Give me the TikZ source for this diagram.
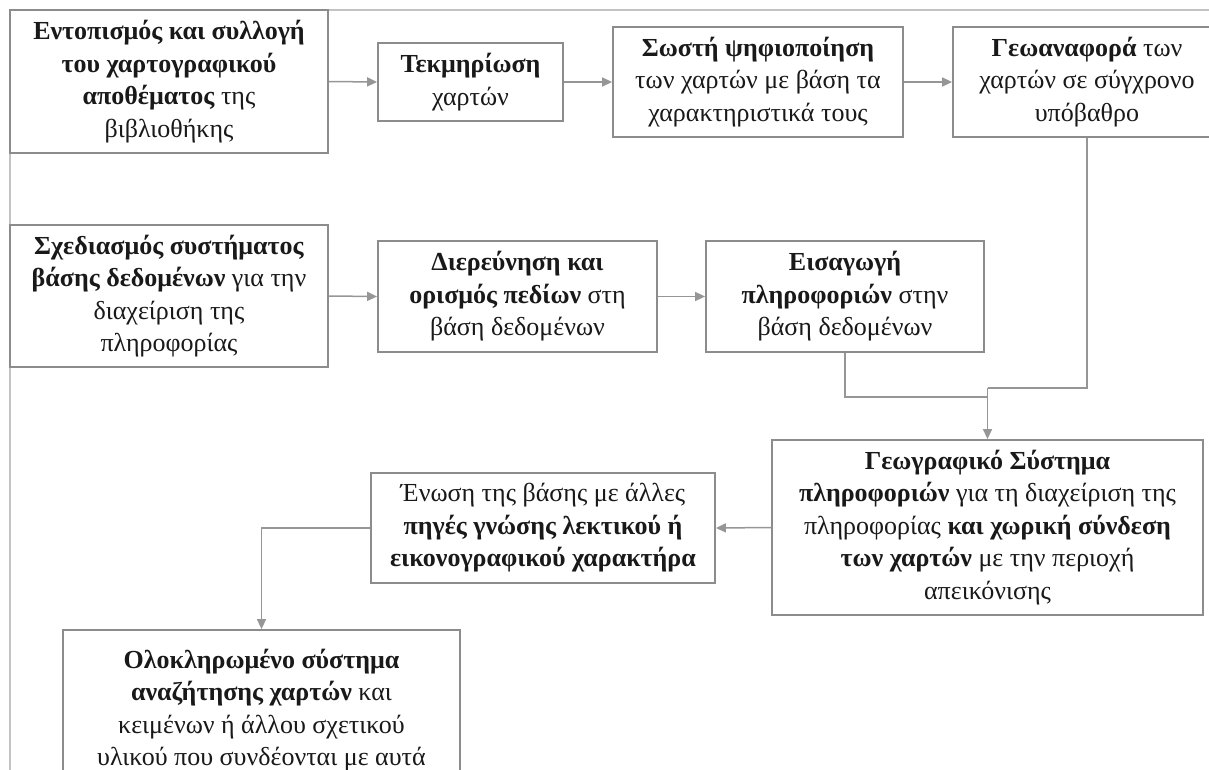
\documentclass[tikz,border=0pt]{standalone}
\usepackage{fontspec}
\setmainfont{Liberation Serif}
\usetikzlibrary{arrows.meta}
\definecolor{boxgray}{RGB}{140,140,140}
\definecolor{linegray}{RGB}{150,150,150}
\definecolor{framegray}{RGB}{195,195,195}
\definecolor{txt}{RGB}{25,25,25}
\tikzset{
  stepbox/.style={draw=boxgray, line width=1.8pt, fill=white, align=center, inner sep=0pt,
    text=txt, font=\fontsize{26}{32.5}\selectfont},
  conn/.style={draw=linegray, line width=1.5pt},
  arr/.style={conn, -{Triangle[length=10pt,width=9pt]}},
}
\begin{document}
\begin{tikzpicture}[x=1pt,y=-1pt]
\useasboundingbox (0,0) rectangle (1209,769);
\clip (0,0) rectangle (1209,769);
% page frame
\draw[framegray, line width=1.5pt] (10,800) -- (10,10) -- (1250,10);
% row 1
\node[stepbox, minimum width=318pt, minimum height=143pt] (B1) at (169,81.5)
  {\textbf{Εντοπισμός και συλλογή}\\ \textbf{του χαρτογραφικού}\\ \textbf{αποθέματος} της\\ βιβλιοθήκης};
\node[stepbox, minimum width=185pt, minimum height=78pt] (B2) at (470.5,82)
  {\textbf{Τεκμηρίωση}\\ χαρτών};
\node[stepbox, minimum width=290pt, minimum height=110pt] (B3) at (758,82)
  {\textbf{Σωστή ψηφιοποίηση}\\ των χαρτών με βάση τα\\ χαρακτηριστικά τους};
\node[stepbox, minimum width=268pt, minimum height=110pt] (B4) at (1087,82)
  {\textbf{Γεωαναφορά} των\\ χαρτών σε σύγχρονο\\ υπόβαθρο};
% row 2
\node[stepbox, minimum width=318pt, minimum height=142pt] (B5) at (169,296)
  {\textbf{Σχεδιασμός συστήματος}\\ \textbf{βάσης δεδομένων} για την\\ διαχείριση της\\ πληροφορίας};
\node[stepbox, minimum width=279pt, minimum height=111pt] (B6) at (517.5,296.5)
  {\textbf{Διερεύνηση και}\\ \textbf{ορισμός πεδίων} στη\\ βάση δεδομένων};
\node[stepbox, minimum width=278pt, minimum height=111pt] (B7) at (845,296.5)
  {\textbf{Εισαγωγή}\\ \textbf{πληροφοριών} στην\\ βάση δεδομένων};
% row 3
\node[stepbox, minimum width=431pt, minimum height=175pt] (B8) at (987.5,527.5)
  {\textbf{Γεωγραφικό Σύστημα}\\ \textbf{πληροφοριών} για τη διαχείριση της\\ πληροφορίας \textbf{και χωρική σύνδεση}\\ \textbf{των χαρτών} με την περιοχή\\ απεικόνισης};
\node[stepbox, minimum width=344pt, minimum height=110pt] (B9) at (543,528)
  {Ένωση της βάσης με άλλες\\ \textbf{πηγές γνώσης λεκτικού ή}\\ \textbf{εικονογραφικού χαρακτήρα}};
\node[stepbox, minimum width=397pt, minimum height=160pt] (B10) at (261.5,710)
  {\textbf{Ολοκληρωμένο σύστημα}\\ \textbf{αναζήτησης χαρτών} και\\ κειμένων ή άλλου σχετικού\\ υλικού που συνδέονται με αυτά};
% connectors
\draw[arr] (B1.east) -- (B2.west);
\draw[arr] (B2.east) -- (B3.west);
\draw[arr] (B3.east) -- (B4.west);
\draw[arr] (B5.east) -- (B6.west);
\draw[arr] (B6.east) -- (B7.west);
\coordinate (J1) at (987.5,388);
\coordinate (J2) at (987.5,397);
\draw[conn] (B4.south) |- (J1);
\draw[conn] (B7.south) |- (J2);
\draw[arr] (J1) -- (B8.north);
\draw[arr] (B8.west) -- (B9.east);
\draw[arr] (B9.west) -| (B10.north);
\end{tikzpicture}
\end{document}
